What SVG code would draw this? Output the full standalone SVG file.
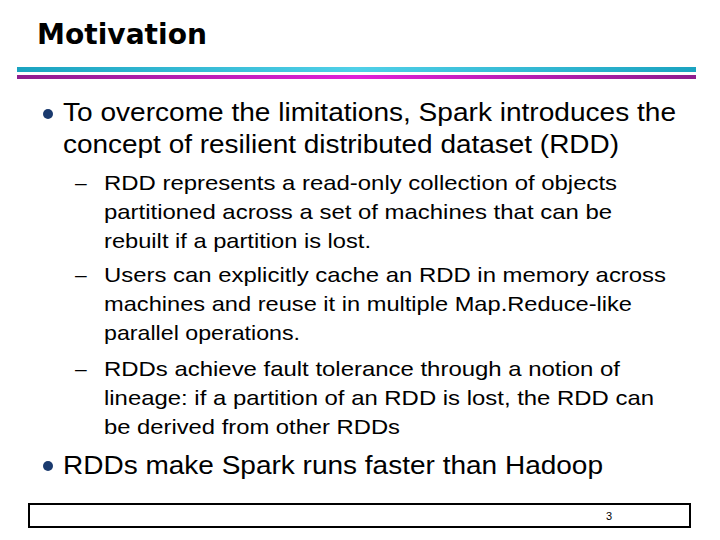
<svg xmlns="http://www.w3.org/2000/svg" width="720" height="540" viewBox="0 0 720 540">
<style>
.t{font-family:"Liberation Sans",Arial,sans-serif;fill:#000}
.b{font-size:25px}
.s{font-size:21px}
</style>
<defs>
<linearGradient id="cy" x1="0" x2="1"><stop offset="0" stop-color="#1aa3c0"/><stop offset="0.5" stop-color="#4fd0e8"/><stop offset="1" stop-color="#1aa3c0"/></linearGradient>
<linearGradient id="pu" x1="0" x2="1"><stop offset="0" stop-color="#8e1d8e"/><stop offset="0.5" stop-color="#e020d8"/><stop offset="1" stop-color="#8e1d8e"/></linearGradient>
</defs>
<rect width="720" height="540" fill="#fff"/>
<text x="37" y="44" font-family="'DejaVu Sans',sans-serif" font-weight="bold" font-size="29" textLength="170" lengthAdjust="spacingAndGlyphs">Motivation</text>
<rect x="17" y="67" width="679" height="5" fill="url(#cy)"/>
<rect x="17" y="75" width="679" height="4" fill="url(#pu)"/>
<circle cx="48" cy="114" r="5" fill="#1a3a6e"/>
<g class="t b">
<text x="63" y="121" textLength="613" lengthAdjust="spacingAndGlyphs">To overcome the limitations, Spark introduces the</text>
<text x="63" y="153" textLength="556" lengthAdjust="spacingAndGlyphs">concept of resilient distributed dataset (RDD)</text>
<text x="63" y="474" textLength="540" lengthAdjust="spacingAndGlyphs">RDDs make Spark runs faster than Hadoop</text>
</g>
<g class="t s">
<text x="75" y="190">–</text>
<text x="104" y="190" textLength="513" lengthAdjust="spacingAndGlyphs">RDD represents a read-only collection of objects</text>
<text x="104" y="219" textLength="508" lengthAdjust="spacingAndGlyphs">partitioned across a set of machines that can be</text>
<text x="104" y="248" textLength="267" lengthAdjust="spacingAndGlyphs">rebuilt if a partition is lost.</text>
<text x="75" y="282">–</text>
<text x="104" y="282" textLength="562" lengthAdjust="spacingAndGlyphs">Users can explicitly cache an RDD in memory across</text>
<text x="104" y="311" textLength="528" lengthAdjust="spacingAndGlyphs">machines and reuse it in multiple Map.Reduce-like</text>
<text x="104" y="340" textLength="196" lengthAdjust="spacingAndGlyphs">parallel operations.</text>
<text x="75" y="376">–</text>
<text x="104" y="376" textLength="516" lengthAdjust="spacingAndGlyphs">RDDs achieve fault tolerance through a notion of</text>
<text x="104" y="405" textLength="550" lengthAdjust="spacingAndGlyphs">lineage: if a partition of an RDD is lost, the RDD can</text>
<text x="104" y="434" textLength="296" lengthAdjust="spacingAndGlyphs">be derived from other RDDs</text>
</g>
<circle cx="48" cy="466" r="5" fill="#1a3a6e"/>
<rect x="29" y="504" width="661" height="23" fill="none" stroke="#000" stroke-width="2"/>
<text class="t" x="609" y="520" font-size="11" text-anchor="middle">3</text>
</svg>
